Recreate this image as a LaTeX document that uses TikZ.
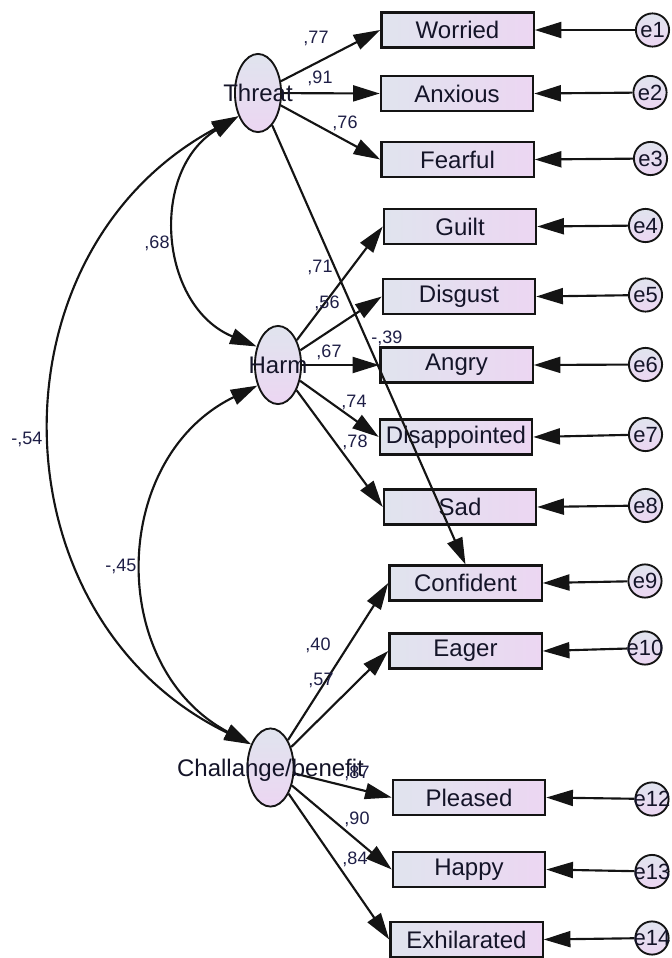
\documentclass[tikz,border=0pt]{standalone}
\usepackage{fontspec}
\setmainfont{Liberation Sans}
\usetikzlibrary{arrows.meta,shapes.geometric}
\definecolor{boxL}{RGB}{224,228,238}
\definecolor{boxR}{RGB}{236,214,242}
\definecolor{txtc}{RGB}{20,20,40}
\definecolor{labc}{RGB}{30,30,70}
\definecolor{linec}{RGB}{20,20,20}
\begin{document}
\begin{tikzpicture}[x=0.75pt,y=0.75pt,
  obs/.style={draw=linec, line width=1.7pt, rectangle, minimum width=114.2pt, minimum height=26.1pt, inner sep=0pt,
    left color=boxL, right color=boxR, font=\fontsize{18}{18}\selectfont, text=txtc},
  lat/.style={draw=linec, line width=1.4pt, ellipse, minimum width=34.6pt, minimum height=58.6pt, inner sep=0pt,
    top color=boxL, bottom color=boxR},
  err/.style={draw=linec, line width=1.4pt, circle, minimum size=24.9pt, inner sep=0pt,
    top color=boxL, bottom color=boxR},
  lattxt/.style={font=\fontsize{18}{18}\selectfont, text=txtc, inner sep=0pt, text height=12.9pt, text depth=0pt},
  etxt/.style={font=\fontsize{16.5}{16.5}\selectfont, text=txtc, inner sep=0pt, text height=11.8pt, text depth=0pt},
  lab/.style={font=\fontsize{13.5}{13.5}\selectfont, text=labc, inner sep=0pt, text height=9.7pt, text depth=0pt},
  arr/.style={line width=1.6pt, draw=linec, -{Triangle[length=20pt,width=12pt]}},
  cov/.style={line width=1.6pt, draw=linec, {Triangle[length=20pt,width=12pt]}-{Triangle[length=20pt,width=12pt]},
    bend right=63, looseness=1.17},
]
\useasboundingbox (0,0) rectangle (672,-958);

% latent variables
\node[lat] (threat) at (258,-93) {};
\node[lat] (harm) at (278,-365) {};
\node[lat] (chal) at (270.5,-767.5) {};

% observed variables
\node[obs] (worried) at (457.5,-30) {Worried};
\node[obs] (anxious) at (457,-93.5) {Anxious};
\node[obs] (fearful) at (457.5,-159.5) {Fearful};
\node[obs] (guilt) at (460,-226.5) {Guilt};
\node[obs] (disgust) at (459,-296.5) {Disgust};
\node[obs] (angry) at (456.5,-365) {Angry};
\node[obs] (disap) at (456,-437) {Disappointed};
\node[obs] (sad) at (460,-507) {Sad};
\node[obs] (confident) at (465.5,-583) {Confident};
\node[obs] (eager) at (465.5,-651) {Eager};
\node[obs] (pleased) at (469,-797.5) {Pleased};
\node[obs] (happy) at (469,-869.5) {Happy};
\node[obs] (exhil) at (466.5,-939.5) {Exhilarated};

% error terms
\node[err] (e1) at (652.5,-30) {};
\node[err] (e2) at (650,-92.5) {};
\node[err] (e3) at (650.5,-158.5) {};
\node[err] (e4) at (645.5,-225.5) {};
\node[err] (e5) at (645.5,-295) {};
\node[err] (e6) at (645.5,-364.5) {};
\node[err] (e7) at (645.5,-434.5) {};
\node[err] (e8) at (645.5,-505.5) {};
\node[err] (e9) at (645,-581) {};
\node[err] (e10) at (645,-648) {};
\node[err] (e12) at (652,-799) {};
\node[err] (e13) at (652,-871.5) {};
\node[err] (e14) at (652,-938) {};

% error arrows
\draw[arr] (e1) -- (worried.east);
\draw[arr] (e2) -- (anxious.east);
\draw[arr] (e3) -- (fearful.east);
\draw[arr] (e4) -- (guilt.east);
\draw[arr] (e5) -- (disgust.east);
\draw[arr] (e6) -- (angry.east);
\draw[arr] (e7) -- (disap.east);
\draw[arr] (e8) -- (sad.east);
\draw[arr] (e9) -- (confident.east);
\draw[arr] (e10) -- (eager.east);
\draw[arr] (e12) -- (pleased.east);
\draw[arr] (e13) -- (happy.east);
\draw[arr] (e14) -- (exhil.east);

% loadings
\draw[arr] (threat) -- (worried.west);
\draw[arr] (threat) -- (anxious.west);
\draw[arr] (threat) -- (fearful.west);
\draw[arr] (threat) -- (confident.north);
\draw[arr] (harm) -- (guilt.west);
\draw[arr] (harm) -- (disgust.west);
\draw[arr] (harm) -- (angry.west);
\draw[arr] (harm) -- (disap.west);
\draw[arr] (harm) -- (sad.west);
\draw[arr] (chal) -- (confident.west);
\draw[arr] (chal) -- (eager.west);
\draw[arr] (chal) -- (pleased.west);
\draw[arr] (chal) -- (happy.west);
\draw[arr] (chal) -- (exhil.west);

% covariances
\draw[cov] (threat.230) to (harm.139);
\draw[cov] (threat.230) to (chal.130);
\draw[cov] (harm.225) to (chal.130);

% latent texts
\node[lattxt] at (threat) {Threat};
\node[lattxt] at (harm) {Harm};
\node[lattxt] at (chal) {Challange/benefit};

% error texts
\node[etxt] at (e1) {e1};
\node[etxt] at (e2) {e2};
\node[etxt] at (e3) {e3};
\node[etxt] at (e4) {e4};
\node[etxt] at (e5) {e5};
\node[etxt] at (e6) {e6};
\node[etxt] at (e7) {e7};
\node[etxt] at (e8) {e8};
\node[etxt] at (e9) {e9};
\node[etxt] at (e10) {e10};
\node[etxt] at (e12) {e12};
\node[etxt] at (e13) {e13};
\node[etxt] at (e14) {e14};

% coefficient labels
\node[lab] at (316,-37) {,77};
\node[lab] at (320,-77) {,91};
\node[lab] at (345,-122) {,76};
\node[lab] at (157,-242) {,68};
\node[lab] at (320,-266) {,71};
\node[lab] at (327,-302) {,56};
\node[lab] at (387,-337) {-,39};
\node[lab] at (329,-351) {,67};
\node[lab] at (354,-401) {,74};
\node[lab] at (355,-441) {,78};
\node[lab] at (27,-438) {-,54};
\node[lab] at (121,-565) {-,45};
\node[lab] at (318,-644) {,40};
\node[lab] at (321,-679) {,57};
\node[lab] at (357,-772) {,87};
\node[lab] at (357,-818) {,90};
\node[lab] at (355,-858) {,84};
\end{tikzpicture}
\end{document}
